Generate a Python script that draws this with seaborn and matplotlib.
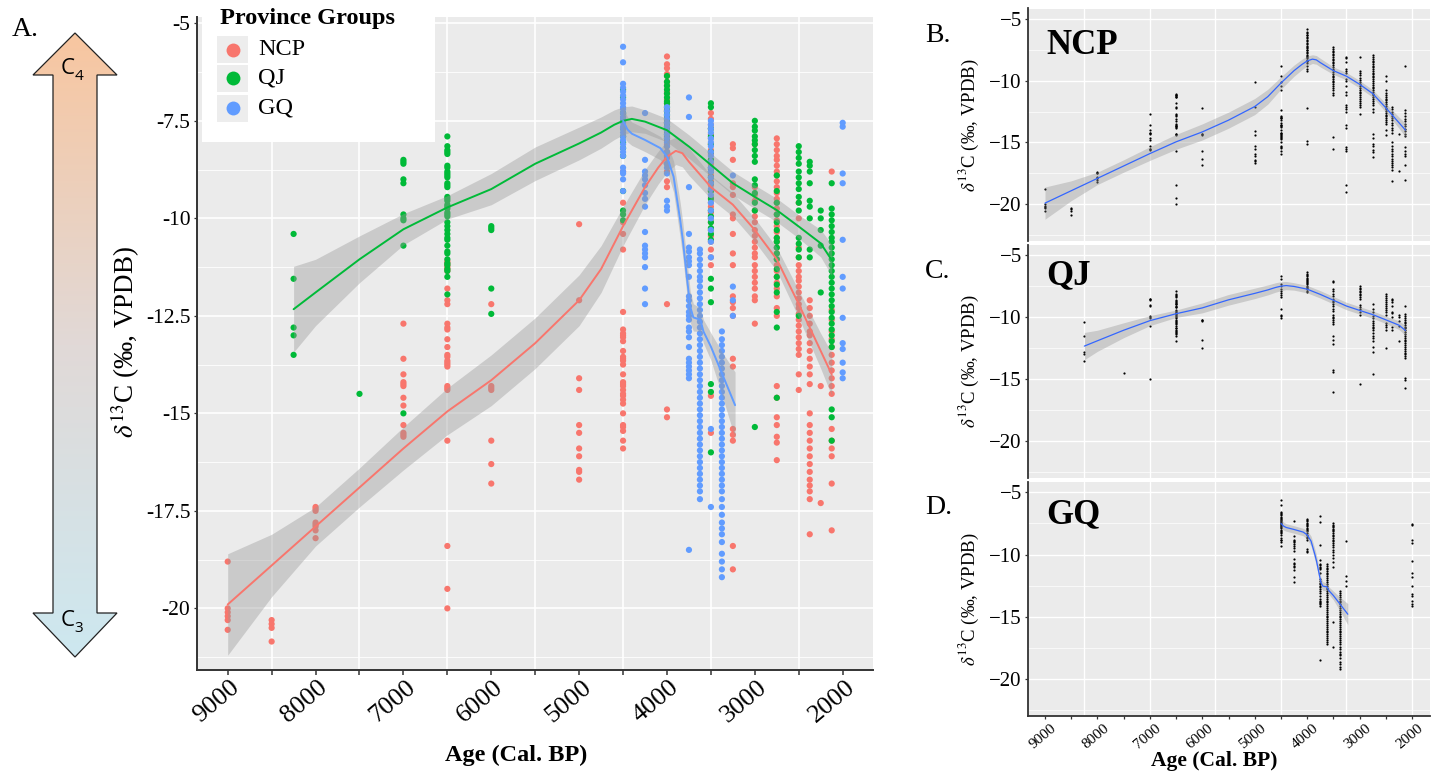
import numpy as np
import pandas as pd
import matplotlib
matplotlib.use("Agg")
import matplotlib.pyplot as plt
import seaborn as sns
from matplotlib.patches import Polygon, Rectangle
from matplotlib.transforms import ScaledTranslation
from matplotlib.colors import LinearSegmentedColormap

# ---------------- data ----------------
groups = ["NCP", "QJ", "GQ"]
group_colors = ["#F8766D", "#00BA38", "#619CFF"]

ncp_ages = [9000, 8500, 8000, 7000, 6500, 6000, 5000, 4500, 4000, 3500, 3250,
            3000, 2750, 2500, 2375, 2250, 2125]
ncp_vals = [
    [-18.8, -20.0, -20.1, -20.2, -20.3, -20.55],
    [-20.3, -20.4, -20.5, -20.85],
    [-17.4, -17.45, -17.5, -17.8, -17.85, -17.9, -18.0, -18.2],
    [-12.7, -13.6, -14.0, -14.2, -14.25, -14.3, -14.6, -14.8, -15.3, -15.5, -15.55, -15.6],
    [-11.1, -11.15, -11.2, -11.25, -11.3, -11.35, -11.8, -12.1, -12.2, -12.7, -12.8, -12.85,
     -13.1, -13.3, -13.5, -13.55, -13.65, -13.7, -13.75, -13.8, -14.3, -14.35, -14.4, -15.7,
     -18.4, -19.5, -20.0],
    [-12.2, -14.3, -14.35, -14.4, -15.7, -16.3, -16.8],
    [-10.15, -12.1, -14.1, -14.4, -15.3, -15.5, -15.9, -16.1, -16.45, -16.5, -16.7],
    [-8.8, -9.6, -10.1, -10.4, -10.8, -12.4, -12.85, -12.95, -13.0, -13.05, -13.15, -13.4,
     -13.55, -13.6, -13.65, -13.75, -14.0, -14.2, -14.25, -14.3, -14.4, -14.5, -14.55, -14.65,
     -14.75, -15.0, -15.3, -15.35, -15.45, -15.7, -15.9],
    [-5.85, -6.05, -6.15, -6.3, -6.35, -6.5, -6.6, -6.75, -6.8, -6.95, -7.05, -7.2, -7.25,
     -7.4, -7.5, -7.55, -7.7, -7.8, -7.9, -8.0, -8.1, -8.15, -8.3, -8.4, -8.45, -8.6, -8.8,
     -9.05, -9.2, -12.2, -14.9, -15.1],
    [-7.3, -7.45, -7.6, -7.7, -7.85, -7.95, -8.1, -8.25, -8.35, -8.5, -8.6, -8.75, -8.9,
     -9.05, -9.15, -9.3, -9.45, -9.6, -9.7, -9.85, -10.0, -10.1, -10.3, -10.45, -10.6, -10.8,
     -11.0, -11.2, -14.55, -15.5],
    [-8.1, -8.2, -8.5, -9.1, -9.2, -9.4, -9.9, -10.0, -10.4, -10.9, -11.2, -12.0, -12.15,
     -12.3, -12.5, -13.6, -13.8, -15.4, -15.55, -15.7, -18.4, -19.0],
    [-8.1, -9.2, -9.4, -9.55, -9.8, -9.95, -10.1, -10.3, -10.45, -10.6, -10.75, -10.9, -11.0,
     -11.2, -11.35, -11.5, -11.65, -11.8, -12.0, -12.1, -12.7],
    [-7.95, -8.1, -8.25, -8.4, -8.5, -8.65, -8.8, -8.9, -9.05, -9.2, -9.35, -9.5, -9.6,
     -9.75, -9.9, -10.05, -10.2, -10.35, -10.5, -10.6, -10.75, -10.9, -11.05, -11.2, -11.35,
     -11.5, -11.65, -11.8, -12.0, -12.3, -12.5, -14.3, -14.6, -15.1, -15.3, -15.6, -15.75, -16.2],
    [-9.6, -10.0, -10.75, -11.0, -11.2, -11.35, -11.5, -11.6, -11.75, -11.9, -12.05, -12.2,
     -12.3, -12.45, -12.6, -12.75, -12.9, -13.05, -13.2, -13.35, -13.5, -14.0, -14.4],
    [-12.1, -12.3, -12.5, -12.7, -12.9, -13.0, -13.2, -13.4, -13.6, -13.8, -14.0, -14.25,
     -15.0, -15.3, -15.5, -15.7, -15.9, -16.1, -16.3, -16.5, -16.7, -16.85, -17.0, -17.2, -18.1],
    [-14.3, -17.3],
    [-8.8, -12.35, -12.6, -12.9, -13.1, -13.3, -13.5, -13.7, -13.9, -14.1, -14.3, -14.5,
     -15.4, -15.7, -15.9, -16.1, -16.8, -18.0],
]

qj_ages = [8250, 7500, 7000, 6500, 6000, 4500, 4000, 3500, 3000, 2750, 2500, 2375, 2250, 2125]
qj_vals = [
    [-10.4, -11.55, -12.8, -13.0, -13.5],
    [-14.5],
    [-8.5, -8.55, -8.6, -9.0, -9.1, -9.9, -10.0, -10.05, -10.7, -15.0],
    [-7.9, -8.15, -8.25, -8.3, -8.35, -8.65, -8.7, -8.8, -8.85, -8.9, -8.95, -9.1, -9.15,
     -9.2, -9.45, -9.5, -9.55, -9.65, -9.7, -9.75, -9.85, -9.9, -9.95, -10.1, -10.2, -10.3,
     -10.4, -10.5, -10.55, -10.7, -10.85, -10.9, -11.05, -11.15, -11.2, -11.3, -11.35, -11.5, -11.95],
    [-10.2, -10.25, -10.3, -11.8, -12.45],
    [-6.7, -6.9, -7.3, -7.5, -7.7, -7.9, -8.05, -8.2, -8.4, -9.3, -9.8, -9.9, -10.05],
    [-6.35, -6.5, -6.6, -6.7, -6.8, -6.9, -7.0, -7.05, -7.15, -7.25, -7.35, -7.45, -7.55,
     -7.65, -7.75, -7.85, -7.95],
    [-7.05, -7.15, -7.7, -7.9, -8.1, -8.3, -8.5, -8.7, -8.8, -8.95, -9.1, -9.3, -9.5, -9.8,
     -9.95, -10.1, -10.25, -10.4, -10.55, -11.55, -11.8, -12.15, -14.25, -14.45, -16.0],
    [-7.5, -7.65, -7.75, -7.9, -8.0, -8.1, -8.25, -8.4, -8.55, -9.0, -9.15, -9.35, -9.6,
     -9.8, -15.35],
    [-8.9, -9.3, -9.6, -9.9, -10.1, -10.3, -10.5, -10.6, -10.75, -10.9, -11.05, -11.3, -11.5,
     -11.7, -11.9, -12.4, -12.8, -14.6],
    [-8.15, -8.3, -8.45, -8.6, -8.8, -8.95, -9.1, -9.25, -9.45, -9.6, -9.8, -10.5, -10.65,
     -10.8, -11.0, -12.5],
    [-8.55, -8.65, -8.8, -9.1, -9.55, -9.7, -10.0, -10.8, -11.0],
    [-9.8, -10.0, -10.3, -10.7, -11.9],
    [-9.1, -9.75, -9.9, -10.05, -10.2, -10.35, -10.5, -10.6, -10.75, -10.9, -11.05, -11.2,
     -11.35, -11.5, -11.65, -11.8, -11.95, -12.1, -12.25, -12.4, -12.55, -12.7, -12.85, -13.0,
     -13.15, -13.3, -14.9, -15.1, -15.7],
]

gq_ages = [4500, 4250, 4000, 3750, 3625, 3500, 3375, 3250, 2000]
gq_vals = [
    [-5.6, -6.0, -6.55, -6.65, -6.75, -6.85, -6.95, -7.05, -7.15, -7.2, -7.3, -7.4, -7.45,
     -7.55, -7.65, -7.7, -7.8, -7.9, -8.0, -8.1, -8.2, -8.3, -8.4, -8.7, -8.8, -8.85, -9.0, -9.3],
    [-7.3, -8.5, -8.8, -8.9, -9.0, -9.15, -9.35, -9.5, -9.7, -10.35, -10.7, -10.8, -10.9,
     -11.0, -11.25, -11.8, -12.2],
    [-7.15, -7.25, -7.35, -7.45, -7.55, -7.65, -7.75, -7.85, -7.95, -8.05, -8.15, -8.3, -8.4,
     -8.6, -8.7, -8.85, -9.55, -9.7, -9.8],
    [-6.9, -7.4, -9.2, -10.4, -10.75, -10.85, -11.0, -11.1, -11.2, -11.5, -12.0, -12.1, -12.25,
     -12.4, -12.5, -12.6, -12.8, -12.9, -13.05, -13.3, -13.6, -13.7, -13.8, -13.9, -14.0, -14.1, -18.5],
    [-10.8, -10.9, -11.05, -11.2, -11.35, -11.5, -11.6, -11.75, -11.9, -12.05, -12.2, -12.35,
     -12.5, -12.65, -12.8, -12.95, -13.1, -13.25, -13.4, -13.55, -13.7, -13.85, -14.0, -14.15,
     -14.3, -14.45, -14.6, -14.75, -14.9, -15.05, -15.2, -15.35, -15.5, -15.65, -15.8, -15.95,
     -16.1, -16.25, -16.4, -16.55, -16.7, -16.85, -17.0, -17.2],
    [-7.5, -7.6, -7.7, -7.8, -7.95, -8.05, -8.15, -8.3, -8.4, -8.55, -8.7, -8.8, -8.95, -9.1,
     -9.25, -9.4, -9.6, -9.8, -10.0, -10.3, -10.6, -11.0, -15.4, -17.4],
    [-12.9, -13.1, -13.25, -13.4, -13.55, -13.7, -13.85, -14.0, -14.15, -14.3, -14.45, -14.6,
     -14.75, -14.9, -15.05, -15.2, -15.35, -15.5, -15.65, -15.8, -15.95, -16.1, -16.25, -16.4,
     -16.55, -16.7, -16.85, -17.0, -17.2, -17.4, -17.6, -17.8, -17.95, -18.1, -18.3, -18.6,
     -18.8, -19.0, -19.2],
    [-8.9, -11.75, -12.1, -12.5],
    [-7.55, -7.65, -8.85, -9.1, -10.55, -11.5, -11.8, -12.55, -13.2, -13.35, -13.7, -13.95, -14.1],
]

# smoothed (loess) curves and their confidence half-widths
ncp_fit_age = [9000, 8500, 8000, 7500, 7000, 6500, 6000, 5500, 5000, 4750, 4500, 4250,
               4100, 4000, 3900, 3825, 3750, 3500, 3250, 3000, 2750, 2500, 2250, 2125]
ncp_fit = [-19.9, -18.9, -17.9, -16.9, -15.9, -14.95, -14.15, -13.2, -12.1, -11.3, -10.2,
           -9.2, -8.7, -8.42, -8.27, -8.33, -8.55, -9.2, -9.65, -10.3, -11.05, -12.2, -13.4, -14.0]
ncp_fit_hw = [1.3, 0.8, 0.5, 0.5, 0.55, 0.6, 0.65, 0.65, 0.65, 0.6, 0.5, 0.45,
              0.42, 0.4, 0.35, 0.35, 0.35, 0.3, 0.3, 0.3, 0.3, 0.35, 0.45, 0.55]

qj_fit_age = [8250, 8000, 7500, 7000, 6500, 6000, 5500, 5000, 4750, 4600, 4500, 4400, 4250,
              4000, 3750, 3500, 3250, 3000, 2750, 2500, 2250, 2125]
qj_fit = [-12.33, -11.9, -11.05, -10.28, -9.72, -9.25, -8.6, -8.08, -7.8, -7.6, -7.5, -7.45,
          -7.52, -7.74, -8.16, -8.63, -9.1, -9.45, -9.79, -10.21, -10.64, -11.07]
qj_fit_hw = [1.1, 0.85, 0.6, 0.4, 0.3, 0.4, 0.43, 0.42, 0.4, 0.38, 0.36, 0.33, 0.3,
             0.3, 0.3, 0.3, 0.3, 0.3, 0.3, 0.3, 0.35, 0.4]

gq_fit_age = [4500, 4450, 4400, 4250, 4075, 4000, 3925, 3850, 3820, 3770, 3735, 3700, 3620,
              3585, 3500, 3375, 3225]
gq_fit = [-7.5, -7.72, -7.83, -7.99, -8.2, -8.42, -8.93, -10.04, -10.55, -11.58, -12.27, -12.54,
          -12.6, -12.9, -13.29, -13.97, -14.79]
gq_fit_hw = [0.35, 0.32, 0.3, 0.3, 0.3, 0.35, 0.4, 0.45, 0.45, 0.45, 0.4, 0.35, 0.3,
             0.3, 0.35, 0.55, 0.85]

age_ticks = [9000, 8000, 7000, 6000, 5000, 4000, 3000, 2000]
age_tick_labels = ["9000", "8000", "7000", "6000", "5000", "4000", "3000", "2000"]
main_y_ticks = [-5, -7.5, -10, -12.5, -15, -17.5, -20]
main_y_labels = ["-5", "-7.5", "-10", "-12.5", "-15", "-17.5", "-20"]
side_y_ticks = [-5, -10, -15, -20]

# ---------------- styling ----------------
sns.set_theme(style="darkgrid")
plt.rcParams['font.family'] = ['Liberation Serif', 'DejaVu Serif']
plt.rcParams['mathtext.fontset'] = 'stix'
plt.rcParams['axes.unicode_minus'] = True
plt.rcParams['text.color'] = 'black'
plt.rcParams['axes.labelcolor'] = 'black'
plt.rcParams['xtick.color'] = 'black'
plt.rcParams['ytick.color'] = 'black'

W, H = 1437, 774
fig = plt.figure(figsize=(W / 100, H / 100), dpi=100, facecolor='white')
PANEL_BG = '#EBEBEB'
AX_COL = '#333333'
BAND = '#999999'
YLABEL = r"$\delta^{13}$C (‰, VPDB)"


def px_axes(l, t, r, b, **kw):
    return fig.add_axes([l / W, 1 - b / H, (r - l) / W, (b - t) / H], **kw)


def long_df(ages, vals, name):
    rows = [(a, v, name) for a, col in zip(ages, vals) for v in col]
    return pd.DataFrame(rows, columns=['age', 'd13c', 'group'])


df = pd.concat([long_df(ncp_ages, ncp_vals, 'NCP'),
                long_df(qj_ages, qj_vals, 'QJ'),
                long_df(gq_ages, gq_vals, 'GQ')], ignore_index=True)
fits = {
    'NCP': (ncp_fit_age, ncp_fit, ncp_fit_hw),
    'QJ': (qj_fit_age, qj_fit, qj_fit_hw),
    'GQ': (gq_fit_age, gq_fit, gq_fit_hw),
}
palette = dict(zip(groups, group_colors))
half_ticks = [8500, 7500, 6500, 5500, 4500, 3500, 2500]
all_half = [9000 - 500 * i for i in range(15)]

# ---------------- panel A ----------------
axA = px_axes(196.7, 16.7, 873, 670)
axA.set_facecolor(PANEL_BG)
sns.scatterplot(data=df, x='age', y='d13c', hue='group', hue_order=groups,
                palette=palette, s=20, linewidth=0, legend=False, ax=axA, zorder=2)
for g in groups:
    fa, fv, fh = fits[g]
    fv_a, fh_a = np.array(fv), np.array(fh)
    axA.fill_between(fa, fv_a - fh_a, fv_a + fh_a, color=BAND, alpha=0.4, lw=0, zorder=3)
for g in groups:
    fa, fv, fh = fits[g]
    sns.lineplot(x=fa, y=fv, color=palette[g], lw=1.4, ax=axA, zorder=4,
                 estimator=None, sort=False)

axA.set_xlim(9353, 1655)
axA.set_ylim(-21.58, -4.83)
axA.set_xticks(age_ticks)
axA.set_xticklabels(age_tick_labels, rotation=40, ha='center', va='center', fontsize=19)
axA.set_xticks(half_ticks, minor=True)
axA.set_yticks(main_y_ticks)
axA.set_yticklabels(main_y_labels, fontsize=15.5)
axA.set_yticks([-6.25, -8.75, -11.25, -13.75, -16.25, -18.75, -21.25], minor=True)
axA.tick_params(axis='x', which='both', direction='out', length=3.6, width=1.1,
                color=AX_COL, pad=19, labelcolor='black', bottom=True)
axA.tick_params(axis='y', which='major', direction='out', length=2.5, width=0.9,
                color=AX_COL, pad=2, labelcolor='black', left=True)
axA.tick_params(axis='y', which='minor', length=0)
for lab in axA.get_xticklabels():
    lab.set_transform(lab.get_transform() + ScaledTranslation(-11 / 100, 0, fig.dpi_scale_trans))
axA.grid(False)
axA.xaxis.grid(True, which='minor', color='white', lw=1.2)
axA.yaxis.grid(True, which='major', color='white', lw=1.2)
axA.yaxis.grid(True, which='minor', color='white', lw=0.6)
axA.set_axisbelow(True)
for s in ['top', 'right']:
    axA.spines[s].set_visible(False)
for s in ['left', 'bottom']:
    axA.spines[s].set_visible(True)
    axA.spines[s].set_color(AX_COL)
    axA.spines[s].set_linewidth(1.4)
axA.set_xlabel('')
axA.set_ylabel('')

# ---------------- panels B, C, D ----------------
side_boxes = [(8.5, 241), (245, 478), (482, 716)]
side_axes = []
for i, g in enumerate(groups):
    t, b = side_boxes[i]
    ax = px_axes(1028, t, 1430, b)
    ax.set_facecolor(PANEL_BG)
    sub = df[df['group'] == g]
    sns.scatterplot(data=sub, x='age', y='d13c', color='black', s=2.5, linewidth=0,
                    legend=False, ax=ax, zorder=2)
    fa, fv, fh = fits[g]
    fv_a, fh_a = np.array(fv), np.array(fh)
    ax.fill_between(fa, fv_a - fh_a, fv_a + fh_a, color=BAND, alpha=0.4, lw=0, zorder=3)
    sns.lineplot(x=fa, y=fv, color='#3366FF', lw=0.9, ax=ax, zorder=4,
                 estimator=None, sort=False)
    ax.set_xlim(9324, 1657)
    ax.set_ylim(-22.96, -4.18)
    ax.set_yticks(side_y_ticks)
    ax.set_yticks([-7.5, -12.5, -17.5, -22.5], minor=True)
    ax.tick_params(axis='y', which='major', direction='out', length=2.5, width=0.9,
                   color=AX_COL, labelsize=15, pad=2, labelcolor='black', left=True)
    ax.tick_params(axis='y', which='minor', length=0)
    ax.grid(False)
    ax.yaxis.grid(True, which='major', color='white', lw=1.0)
    ax.yaxis.grid(True, which='minor', color='white', lw=0.5)
    ax.set_axisbelow(True)
    for xv in [8250, 7000, 5750, 4500, 3250, 2000]:
        ax.axvline(xv, color='white', lw=1.0, zorder=0.6)
    ax.set_xticks(age_ticks)
    ax.set_xticks(all_half, minor=True)
    for s in ['top', 'right']:
        ax.spines[s].set_visible(False)
    ax.spines['left'].set_visible(True)
    ax.spines['left'].set_color(AX_COL)
    ax.spines['left'].set_linewidth(1.3)
    if i < 2:
        ax.spines['bottom'].set_visible(False)
        ax.tick_params(axis='x', which='both', length=0, labelbottom=False)
    else:
        ax.spines['bottom'].set_visible(True)
        ax.spines['bottom'].set_color(AX_COL)
        ax.spines['bottom'].set_linewidth(1.3)
        ax.set_xticklabels(age_tick_labels, rotation=40, ha='center', va='center', fontsize=11)
        ax.tick_params(axis='x', which='both', direction='out', length=2.5, width=0.9,
                       color=AX_COL, pad=12, labelcolor='black', bottom=True)
        for lab in ax.get_xticklabels():
            lab.set_transform(lab.get_transform() + ScaledTranslation(-2 / 100, 0, fig.dpi_scale_trans))
    ax.set_xlabel('')
    ax.set_ylabel(YLABEL, fontsize=13.5, labelpad=6, color='black')
    side_axes.append(ax)

# ---------------- overlay: arrow, legend, labels ----------------
ov = fig.add_axes([0, 0, 1, 1], zorder=10)
ov.patch.set_alpha(0)

arrow_pts = [(75, 33), (117, 75), (97, 75), (97, 613), (117, 613), (75, 657),
             (33, 613), (53, 613), (53, 75), (33, 75)]
arrow = Polygon(arrow_pts, closed=True, facecolor='none', edgecolor='#222222', lw=0.9, zorder=3)
ov.add_patch(arrow)
grad_cmap = LinearSegmentedColormap.from_list(
    'c4c3', [(0.0, '#F8C6A0'), (0.5, '#E1D9D7'), (1.0, '#CDE8F0')])
grad = np.linspace(0, 1, 256).reshape(-1, 1)
im = ov.imshow(grad, cmap=grad_cmap, extent=[33, 117, 657, 33], aspect='auto',
               zorder=2, interpolation='bilinear')
clip = Polygon(arrow_pts, closed=True, transform=ov.transData)
im.set_clip_path(clip)
ov.text(68, 69, "C", fontsize=16, family='Open Sans', ha='center', va='center', zorder=4)
ov.text(79, 77, "4", fontsize=11, family='Open Sans', ha='center', va='center', zorder=4)
ov.text(68, 620, "C", fontsize=16, family='Open Sans', ha='center', va='center', zorder=4)
ov.text(79, 628, "3", fontsize=11, family='Open Sans', ha='center', va='center', zorder=4)

ov.text(12, 29, "A.", fontsize=20, ha='left', va='center')
ov.text(125, 342, YLABEL, fontsize=19.5, rotation=90, ha='center', va='center')
ov.text(516, 755, "Age (Cal. BP)", fontsize=17.5, fontweight='bold', ha='center', va='center')
ov.text(1214, 761, "Age (Cal. BP)", fontsize=15.5, fontweight='bold', ha='center', va='center')

for lbl, yy in zip(["B.", "C.", "D."], [36, 272, 508]):
    ov.text(925, yy, lbl, fontsize=20, ha='left', va='center')
for name, yy in zip(groups, [45, 276, 515]):
    ov.text(1046, yy, name, fontsize=25, fontweight='bold', ha='left', va='center')

# legend box
ov.add_patch(Rectangle((201.7, 0), 233.3, 141.7, facecolor='white', edgecolor='none', zorder=5))
ov.text(220.5, 18.5, "Province Groups", fontsize=17.5, fontweight='bold',
        ha='left', va='center', zorder=6)
key_centers = [49.5, 78.3, 108.3]
for name, col, yc in zip(groups, group_colors, key_centers):
    ov.add_patch(Rectangle((217, yc - 13.5), 31, 27, facecolor='#EDEDED',
                           edgecolor='none', zorder=6))
    ov.scatter([233], [yc], s=100, color=col, linewidths=0, zorder=7)
    ov.text(258, yc, name, fontsize=17.5, ha='left', va='center', zorder=7)

ov.set_xlim(0, W)
ov.set_ylim(H, 0)
ov.axis('off')

fig.savefig("out.png", dpi=100, facecolor='white')
